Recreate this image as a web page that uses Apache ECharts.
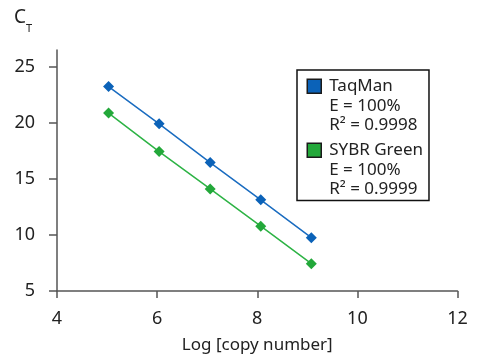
<!DOCTYPE html>
<html>
<head>
<meta charset="utf-8">
<script src="https://cdn.jsdelivr.net/npm/echarts@6/dist/echarts.min.js"></script>
<style>
  html, body { margin: 0; padding: 0; background: #fff; }
  #chart { width: 477px; height: 361px; }
</style>
</head>
<body>
<div id="chart"></div>
<script>
// log copy number for each dilution
const logCopies = [5.03, 6.04, 7.06, 8.07, 9.08];
const taqman = [23.24, 19.91, 16.46, 13.13, 9.76];
const sybr = [20.87, 17.44, 14.11, 10.78, 7.44];
const yTicks = [5, 10, 15, 20, 25];

const legendText = {
  TaqMan: ['E = 100%', 'R² = 0.9998'],
  'SYBR Green': ['E = 100%', 'R² = 0.9999']
};

const font = 'Noto Sans';
const axisColor = '#555';

const chart = echarts.init(document.getElementById('chart'));

const option = {
  animation: false,
  textStyle: { fontFamily: font },
  grid: { left: 57, right: 19.5, top: 50, bottom: 70 },
  xAxis: {
    type: 'value',
    min: 4,
    max: 12,
    interval: 2,
    name: 'Log [copy number]',
    nameLocation: 'middle',
    nameGap: 46,
    nameTextStyle: { fontSize: 17, color: '#222', fontFamily: font },
    axisLine: { lineStyle: { color: axisColor, width: 1.5 } },
    axisTick: { length: 7, lineStyle: { color: axisColor, width: 1.5 } },
    axisLabel: { fontSize: 18, color: '#222', margin: 19, fontFamily: font },
    splitLine: { show: false }
  },
  yAxis: {
    type: 'value',
    min: 5,
    max: 26.5,
    interval: 5,
    name: '{c|C}{t|T}',
    nameLocation: 'end',
    nameGap: 16,
    nameTextStyle: {
      align: 'right',
      padding: [0, 25, 0, 0],
      rich: {
        c: { fontSize: 19, color: '#222', fontFamily: font, verticalAlign: 'top', lineHeight: 20 },
        t: { fontSize: 11, color: '#222', fontFamily: font, verticalAlign: 'bottom', lineHeight: 26 }
      }
    },
    axisLine: { show: true, lineStyle: { color: axisColor, width: 1.5 } },
    axisTick: { show: true, length: 8, customValues: yTicks, lineStyle: { color: axisColor, width: 1.5 } },
    axisLabel: { fontSize: 18, color: '#222', margin: 22, customValues: yTicks, fontFamily: font },
    splitLine: { show: false }
  },
  legend: {
    orient: 'vertical',
    left: 297,
    top: 70,
    icon: 'rect',
    itemWidth: 14,
    itemHeight: 14,
    itemGap: -33.5,
    padding: [-32.5, 6, 1.5, 9.5],
    borderColor: '#111',
    borderWidth: 1.5,
    itemStyle: { borderColor: '#1a1a1a', borderWidth: 1.5 },
    textStyle: { fontSize: 17, lineHeight: 19.5, color: '#222', fontFamily: font, padding: [0, 0, 0, 3] },
    formatter: name => ['', '', name].concat(legendText[name]).join('\n'),
    data: ['TaqMan', 'SYBR Green']
  },
  series: [
    {
      name: 'TaqMan',
      type: 'line',
      data: logCopies.map((x, i) => [x, taqman[i]]),
      symbol: 'diamond',
      symbolSize: 11,
      color: '#0b62b8',
      lineStyle: { width: 1.5, color: '#1a6cc0' },
      itemStyle: { color: '#0b62b8' }
    },
    {
      name: 'SYBR Green',
      type: 'line',
      data: logCopies.map((x, i) => [x, sybr[i]]),
      symbol: 'diamond',
      symbolSize: 11,
      color: '#23a83a',
      lineStyle: { width: 1.5, color: '#2db345' },
      itemStyle: { color: '#23a83a' }
    }
  ]
};

chart.setOption(option);
</script>
</body>
</html>
